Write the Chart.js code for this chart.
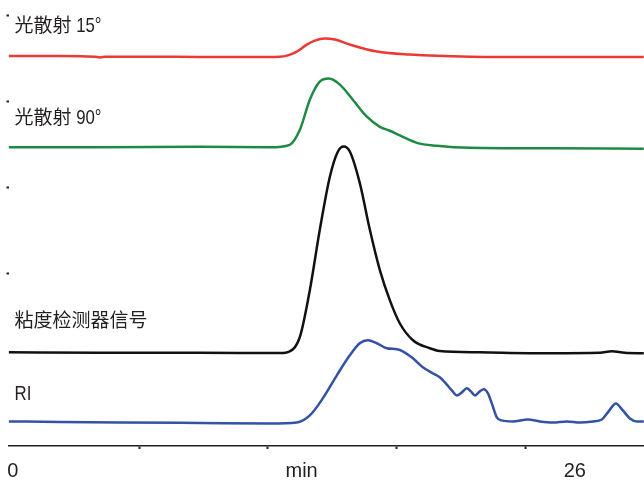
<!DOCTYPE html>
<html>
<head>
<meta charset="utf-8">
<style>
  html, body { margin: 0; padding: 0; background: #fff; }
  #wrap { width: 644px; height: 481px; position: relative; }
</style>
<script src="https://cdn.jsdelivr.net/npm/chart.js@4.4.1/dist/chart.umd.min.js"></script>
</head>
<body>
<div id="wrap"><canvas id="gpcChart"></canvas></div>
<script>
// retention time (min) and detector response (offset, arbitrary units)
const redTime = [-0.19, 2.17, 3.79, 4.02, 4.30, 6.34, 8.65, 10.96, 12.35, 12.68, 13.14, 13.60, 13.97, 14.43, 14.90, 15.59, 16.84, 18.37, 21.14, 24.84, 29.19];
const redSignal = [4.523, 4.523, 4.517, 4.508, 4.517, 4.517, 4.512, 4.512, 4.517, 4.529, 4.576, 4.657, 4.703, 4.727, 4.715, 4.657, 4.576, 4.541, 4.517, 4.512, 4.512];

const greenTime = [-0.19, 4.02, 8.65, 11.89, 12.81, 13.28, 13.74, 14.20, 14.62, 15.13, 15.73, 16.38, 16.98, 17.44, 18.04, 18.69, 19.62, 21.14, 24.84, 29.19];
const greenSignal = [3.465, 3.465, 3.471, 3.465, 3.494, 3.669, 4.017, 4.227, 4.262, 4.192, 4.017, 3.820, 3.703, 3.657, 3.587, 3.517, 3.483, 3.459, 3.453, 3.448];

const blackTime = [-0.19, 4.02, 8.65, 12.35, 12.81, 13.28, 13.74, 14.20, 14.67, 15.04, 15.31, 15.59, 16.05, 16.52, 16.98, 17.44, 17.90, 18.51, 19.29, 19.75, 21.61, 24.84, 27.16, 27.71, 28.31, 29.19];
const blackSignal = [1.087, 1.081, 1.081, 1.079, 1.099, 1.265, 1.808, 2.506, 3.126, 3.416, 3.474, 3.416, 3.052, 2.506, 2.041, 1.692, 1.424, 1.227, 1.134, 1.102, 1.087, 1.076, 1.081, 1.099, 1.081, 1.076];

const blueTime = [-0.19, 2.17, 4.95, 8.65, 11.89, 13.14, 13.74, 14.34, 14.99, 15.59, 16.05, 16.42, 16.84, 17.30, 17.77, 18.04, 18.51, 18.97, 19.43, 19.75, 19.99, 20.31, 20.54, 20.77, 21.00, 21.19, 21.38, 21.61, 21.79, 21.98, 22.16, 22.39, 22.62, 23.13, 23.83, 24.38, 24.98, 25.63, 26.23, 26.83, 27.25, 27.53, 27.90, 28.22, 28.55, 28.87, 29.19];
const blueSignal = [0.285, 0.279, 0.273, 0.267, 0.262, 0.273, 0.355, 0.552, 0.820, 1.052, 1.192, 1.227, 1.192, 1.134, 1.122, 1.099, 1.017, 0.913, 0.843, 0.797, 0.738, 0.645, 0.587, 0.622, 0.669, 0.634, 0.587, 0.634, 0.657, 0.610, 0.494, 0.331, 0.297, 0.285, 0.308, 0.285, 0.273, 0.285, 0.273, 0.285, 0.308, 0.390, 0.494, 0.413, 0.320, 0.285, 0.285];

const traceNames = ["光散射 15°", "光散射 90°", "粘度检测器信号", "RI"];

// x axis: tick marks and the three printed labels
const xTickMarks = [5.84, 11.77, 17.75, 23.72];
const xTickLabels = { 0: "0", 13.36: "min", 26: "26" };

const latinFont = "'Liberation Sans Narrow', 'Liberation Sans', sans-serif";

function toPoints(xs, ys) {
  return xs.map((x, i) => ({ x: x, y: ys[i] }));
}

// draws mixed CJK / latin text char by char; latin glyphs are squeezed to a condensed look
function drawMixedText(ctx, text, x, y) {
  for (const ch of text) {
    const isCJK = /[\u3000-\u9fff]/.test(ch);
    if (isCJK) {
      ctx.font = "19px 'Noto Sans CJK SC'";
      ctx.fillText(ch, x, y);
      x += ctx.measureText(ch).width;
    } else {
      ctx.font = "21px " + latinFont;
      ctx.save();
      ctx.translate(x, y);
      ctx.scale(0.8, 1);
      ctx.fillText(ch, 0, 0);
      ctx.restore();
      x += ctx.measureText(ch).width * 0.8;
    }
  }
}

const traceLabelPlugin = {
  id: "traceLabels",
  afterDraw(chart) {
    const ctx = chart.ctx;
    const baselines = [32, 124, 327, 400];
    ctx.save();
    ctx.fillStyle = "#231f20";
    ctx.textBaseline = "alphabetic";
    traceNames.forEach((name, i) => {
      drawMixedText(ctx, name, 14.5, baselines[i]);
    });
    ctx.restore();
  },
};

const lineStyle = {
  borderWidth: 2.5,
  pointRadius: 0,
  fill: false,
  cubicInterpolationMode: "monotone",
};

new Chart(document.getElementById("gpcChart"), {
  type: "line",
  data: {
    datasets: [
      { label: traceNames[0], data: toPoints(redTime, redSignal), borderColor: "#ea3a34", ...lineStyle },
      { label: traceNames[1], data: toPoints(greenTime, greenSignal), borderColor: "#1e8a43", ...lineStyle },
      { label: traceNames[2], data: toPoints(blackTime, blackSignal), borderColor: "#111111", ...lineStyle },
      { label: traceNames[3], data: toPoints(blueTime, blueSignal), borderColor: "#3452a5", ...lineStyle },
    ],
  },
  options: {
    responsive: true,
    maintainAspectRatio: false,
    devicePixelRatio: 1,
    animation: false,
    layout: { padding: { top: 15, right: 0, bottom: -12, left: 0 } },
    plugins: {
      legend: { display: false },
      tooltip: { enabled: false },
    },
    scales: {
      x: {
        type: "linear",
        min: -0.2,
        max: 29.2,
        afterBuildTicks: function (scale) {
          const values = xTickMarks.concat(Object.keys(xTickLabels).map(Number));
          values.sort((a, b) => a - b);
          scale.ticks = values.map((v) => ({ value: v }));
        },
        // the "0" label may hang past the plot edge, no extra side padding
        afterFit: function (scale) {
          scale.paddingLeft = 0;
          scale.paddingRight = 0;
        },
        border: { display: true, color: "#231f20", width: 1.5 },
        grid: {
          drawOnChartArea: false,
          drawTicks: true,
          tickLength: 3,
          tickWidth: 2,
          tickColor: function (ctx) {
            const v = ctx.tick ? ctx.tick.value : null;
            return xTickMarks.includes(v) ? "#231f20" : "rgba(0,0,0,0)";
          },
        },
        ticks: {
          autoSkip: false,
          maxRotation: 0,
          padding: 10,
          color: "#231f20",
          font: { family: latinFont, size: 20 },
          callback: function (value) {
            return xTickLabels[value] !== undefined ? xTickLabels[value] : "";
          },
        },
      },
      y: {
        min: 0,
        max: 5,
        // keep the unlabeled axis narrow so the traces start near the left edge
        afterFit: function (scale) {
          scale.width = 8.5;
        },
        border: { display: false },
        grid: {
          drawOnChartArea: false,
          drawTicks: true,
          tickLength: 2,
          tickWidth: 2,
          tickColor: function (ctx) {
            const v = ctx.tick ? ctx.tick.value : 0;
            return v >= 2 ? "#231f20" : "rgba(0,0,0,0)";
          },
        },
        ticks: { stepSize: 1, display: false },
      },
    },
  },
  plugins: [traceLabelPlugin],
});
</script>
</body>
</html>
